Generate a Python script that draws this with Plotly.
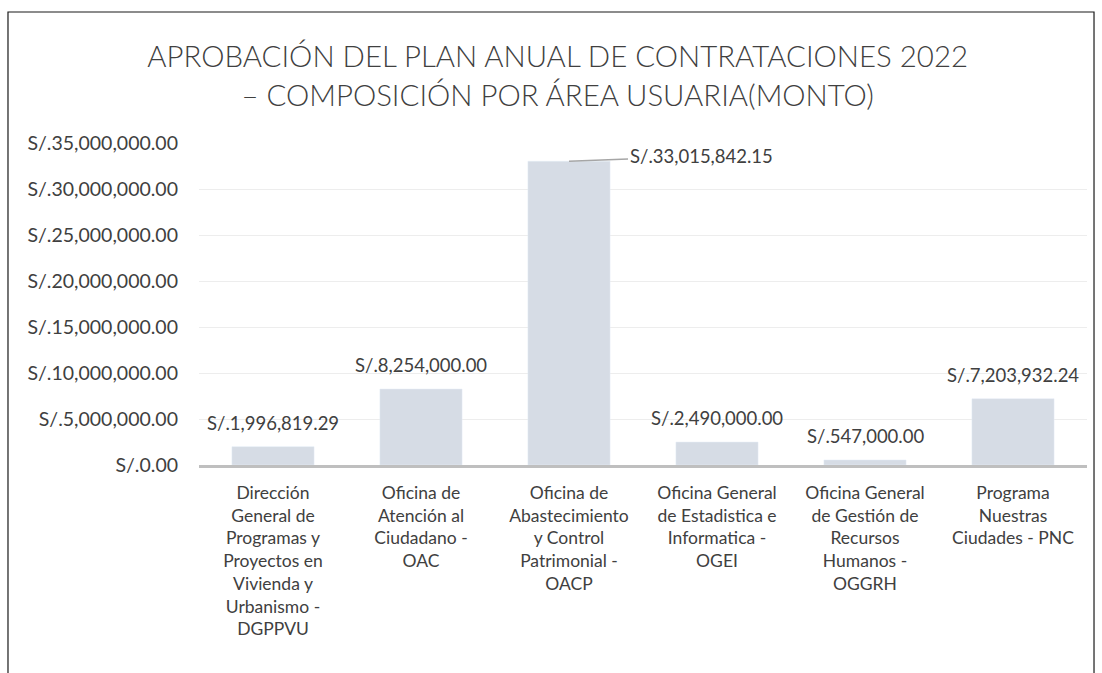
import plotly.graph_objects as go

categories = [
    "Dirección<br>General de<br>Programas y<br>Proyectos en<br>Vivienda y<br>Urbanismo -<br>DGPPVU",
    "Oficina de<br>Atención al<br>Ciudadano -<br>OAC",
    "Oficina de<br>Abastecimiento<br>y Control<br>Patrimonial -<br>OACP",
    "Oficina General<br>de Estadistica e<br>Informatica -<br>OGEI",
    "Oficina General<br>de Gestión de<br>Recursos<br>Humanos -<br>OGGRH",
    "Programa<br>Nuestras<br>Ciudades - PNC",
]
values = [1996819.29, 8254000.00, 33015842.15, 2490000.00, 547000.00, 7203932.24]
labels = ["S/.1,996,819.29", "S/.8,254,000.00", "S/.33,015,842.15",
          "S/.2,490,000.00", "S/.547,000.00", "S/.7,203,932.24"]

FONT = "Lato"
TXT = "#404040"

fig = go.Figure()
fig.add_trace(go.Bar(x=categories, y=values, marker_color="#D6DCE5",
                     width=0.555, hoverinfo="skip"))

annotations = []
for i, (c, v, t) in enumerate(zip(categories, values, labels)):
    if i == 2:
        annotations.append(dict(x=c, y=v, text=t, showarrow=True, arrowhead=0,
                                arrowwidth=1.5, arrowcolor="#A6A6A6",
                                ax=132, ay=-5, standoff=0,
                                font=dict(family=FONT, size=18.5, color=TXT)))
    else:
        annotations.append(dict(x=c, y=v, text=t, showarrow=False,
                                yanchor="bottom", yshift=11,
                                font=dict(family=FONT, size=18.5, color=TXT)))

fig.update_layout(
    width=1102, height=673,
    paper_bgcolor="white", plot_bgcolor="white",
    margin=dict(l=199, r=15, t=143, b=208),
    title=dict(text="APROBACIÓN DEL PLAN ANUAL DE CONTRATACIONES 2022<br>– COMPOSICIÓN POR ÁREA USUARIA(MONTO)",
               x=0.506, xanchor="center", y=0.9, yanchor="middle",
               font=dict(family=FONT, size=29.4, color=TXT, weight=300)),
    showlegend=False,
    bargap=0.45,
    annotations=annotations,
    shapes=[dict(type="rect", xref="paper", yref="paper",
                 x0=-0.2151, x1=1.0079, y0=-0.75, y1=1.4068,
                 line=dict(color="#1a1a1a", width=1.2), layer="below")],
)
fig.update_yaxes(range=[0, 35000000], dtick=5000000, tickprefix="S/.",
                 tickformat=",.2f", gridcolor="#EDEDED", gridwidth=1,
                 zeroline=False, showline=False, ticks="", ticklen=0,
                 ticklabelstandoff=20,
                 tickfont=dict(family=FONT, size=19.5, color=TXT))
fig.update_xaxes(showline=True, linecolor="#BFBFBF", linewidth=2.5,
                 tickfont=dict(family=FONT, size=17.5, color=TXT), ticks="",
                 ticklabelstandoff=10, tickangle=0)

fig.write_html("out.html", config={"displayModeBar": False},
               post_script="document.body.style.margin='0';")
